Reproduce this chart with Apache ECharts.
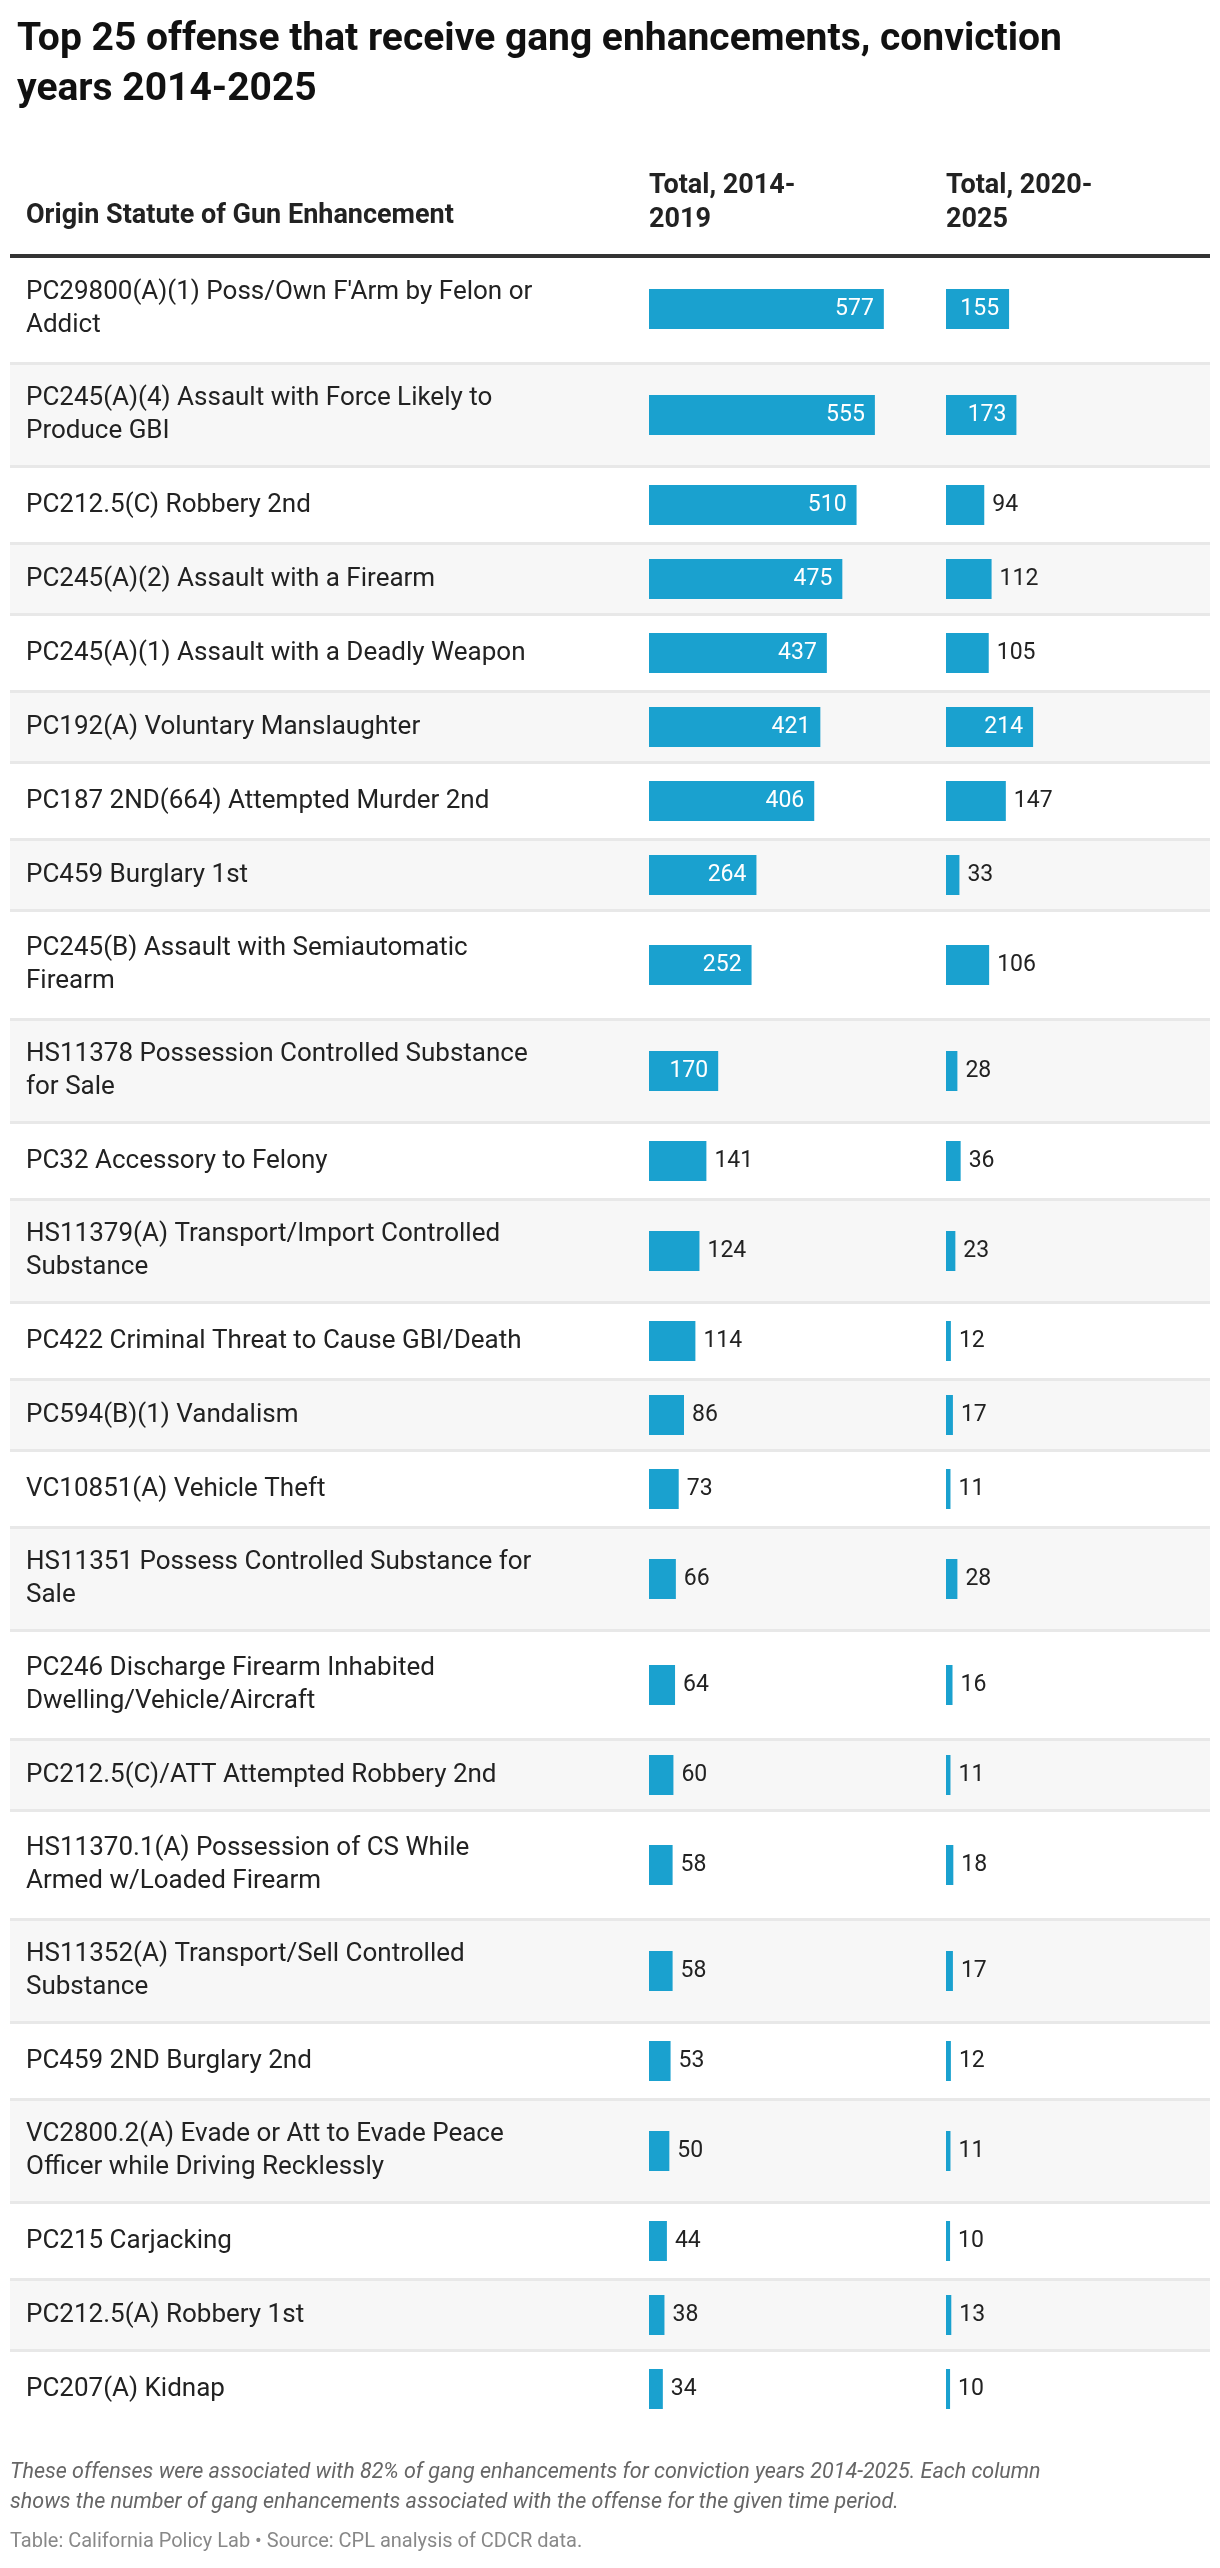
<!DOCTYPE html>
<html lang="en">
<head>
<meta charset="UTF-8">
<title>Top 25 offense that receive gang enhancements</title>
<script src="https://cdn.jsdelivr.net/npm/echarts@6/dist/echarts.min.js"></script>
<style>
  html, body { margin: 0; padding: 0; background: #fff; }
  #chart { width: 1220px; height: 2568px; }
</style>
</head>
<body>
<div id="chart"></div>
<script>
var offenses = [
  "PC29800(A)(1) Poss/Own F'Arm by Felon or\nAddict",
  "PC245(A)(4) Assault with Force Likely to\nProduce GBI",
  "PC212.5(C) Robbery 2nd",
  "PC245(A)(2) Assault with a Firearm",
  "PC245(A)(1) Assault with a Deadly Weapon",
  "PC192(A) Voluntary Manslaughter",
  "PC187 2ND(664) Attempted Murder 2nd",
  "PC459 Burglary 1st",
  "PC245(B) Assault with Semiautomatic\nFirearm",
  "HS11378 Possession Controlled Substance\nfor Sale",
  "PC32 Accessory to Felony",
  "HS11379(A) Transport/Import Controlled\nSubstance",
  "PC422 Criminal Threat to Cause GBI/Death",
  "PC594(B)(1) Vandalism",
  "VC10851(A) Vehicle Theft",
  "HS11351 Possess Controlled Substance for\nSale",
  "PC246 Discharge Firearm Inhabited\nDwelling/Vehicle/Aircraft",
  "PC212.5(C)/ATT Attempted Robbery 2nd",
  "HS11370.1(A) Possession of CS While\nArmed w/Loaded Firearm",
  "HS11352(A) Transport/Sell Controlled\nSubstance",
  "PC459 2ND Burglary 2nd",
  "VC2800.2(A) Evade or Att to Evade Peace\nOfficer while Driving Recklessly",
  "PC215 Carjacking",
  "PC212.5(A) Robbery 1st",
  "PC207(A) Kidnap"
];
var total2014_2019 = [577, 555, 510, 475, 437, 421, 406, 264, 252, 170, 141, 124, 114, 86, 73, 66, 64, 60, 58, 58, 53, 50, 44, 38, 34];
var total2020_2025 = [155, 173, 94, 112, 105, 214, 147, 33, 106, 28, 36, 23, 12, 17, 11, 28, 16, 11, 18, 17, 12, 11, 10, 13, 10];
var columnTitles = ["Origin Statute of Gun Enhancement", "Total, 2014-\n2019", "Total, 2020-\n2025"];

// row layout: two-line labels get taller rows
var TOP = 256, ROW1 = 74, ROW2 = 106, PXU = 0.407;
var centers = [], heights = [], y = 0;
offenses.forEach(function (name) {
  var h = name.indexOf('\n') >= 0 ? ROW2 : ROW1;
  centers.push(y + h / 2);
  heights.push(h);
  y += h;
});
var totalH = y;
var BLUE = '#1aa1cf';

function rows(values) {
  return values.map(function (v, i) { return [v, centers[i], heights[i], i]; });
}

function barItem(params, api) {
  var v = api.value(0), c = api.value(1);
  var p0 = api.coord([0, c]), p1 = api.coord([v, c]);
  var w = p1[0] - p0[0];
  var inside = w > 62;
  return {
    type: 'group',
    children: [
      { type: 'rect', shape: { x: p0[0], y: c + TOP - 20, width: w, height: 40 }, style: { fill: BLUE } },
      { type: 'text', style: {
          text: String(v), x: inside ? p1[0] - 10 : p1[0] + 8, y: c + TOP,
          align: inside ? 'right' : 'left', verticalAlign: 'middle',
          fill: inside ? '#fff' : '#222', font: '23px Roboto' } }
    ]
  };
}

function rowItem(params, api) {
  var i = api.value(3), c = api.value(1), h = api.value(2);
  var top = c - h / 2 + TOP;
  var children = [];
  if (i % 2 === 1) {
    children.push({ type: 'rect', shape: { x: 10, y: top, width: 1200, height: h }, style: { fill: '#f7f7f7' } });
    children.push({ type: 'rect', shape: { x: 10, y: top, width: 1200, height: 3 }, style: { fill: '#e8e8e8' } });
    children.push({ type: 'rect', shape: { x: 10, y: top + h - 3, width: 1200, height: 3 }, style: { fill: '#e8e8e8' } });
  }
  children.push({ type: 'text', style: {
    text: offenses[i], x: 26, y: c + TOP, verticalAlign: 'middle',
    fill: '#222', font: '26px Roboto', lineHeight: 33 } });
  return { type: 'group', children: children };
}

var chart = echarts.init(document.getElementById('chart'), null, { renderer: 'canvas' });
chart.setOption({
  animation: false,
  title: {
    text: 'Top 25 offense that receive gang enhancements, conviction\nyears 2014-2025',
    left: 12, top: 10,
    textStyle: { fontFamily: 'Roboto', fontWeight: 'bold', fontSize: 39, color: '#111', lineHeight: 50 }
  },
  graphic: [
    { type: 'text', left: 26, top: 203, style: { text: columnTitles[0], font: 'bold 27px Roboto', fill: '#222' } },
    { type: 'text', left: 649, top: 169, style: { text: columnTitles[1], font: 'bold 27px Roboto', fill: '#222', lineHeight: 34 } },
    { type: 'text', left: 946, top: 169, style: { text: columnTitles[2], font: 'bold 27px Roboto', fill: '#222', lineHeight: 34 } },
    { type: 'rect', shape: { x: 10, y: 254, width: 1200, height: 4 }, style: { fill: '#333' } },
    { type: 'text', left: 10, top: 2458, style: {
        text: 'These offenses were associated with 82% of gang enhancements for conviction years 2014-2025. Each column\nshows the number of gang enhancements associated with the offense for the given time period.',
        font: 'italic 21.5px Roboto', fill: '#666', lineHeight: 30 } },
    { type: 'text', left: 10, top: 2532, style: {
        text: 'Table: California Policy Lab \u2022 Source: CPL analysis of CDCR data.',
        font: '20px Roboto', fill: '#888' } }
  ],
  grid: [
    { left: 649, top: TOP, width: 280, height: totalH },
    { left: 946, top: TOP, width: 260, height: totalH }
  ],
  xAxis: [
    { gridIndex: 0, type: 'value', min: 0, max: 280 / PXU, show: false },
    { gridIndex: 1, type: 'value', min: 0, max: 260 / PXU, show: false }
  ],
  yAxis: [
    { gridIndex: 0, type: 'value', min: 0, max: totalH, inverse: true, show: false },
    { gridIndex: 1, type: 'value', min: 0, max: totalH, inverse: true, show: false }
  ],
  series: [
    { type: 'custom', xAxisIndex: 0, yAxisIndex: 0, clip: false, z: 1, data: rows(total2014_2019), renderItem: rowItem },
    { type: 'custom', xAxisIndex: 0, yAxisIndex: 0, clip: false, z: 2, data: rows(total2014_2019), renderItem: barItem },
    { type: 'custom', xAxisIndex: 1, yAxisIndex: 1, clip: false, z: 2, data: rows(total2020_2025), renderItem: barItem }
  ]
});
</script>
</body>
</html>
